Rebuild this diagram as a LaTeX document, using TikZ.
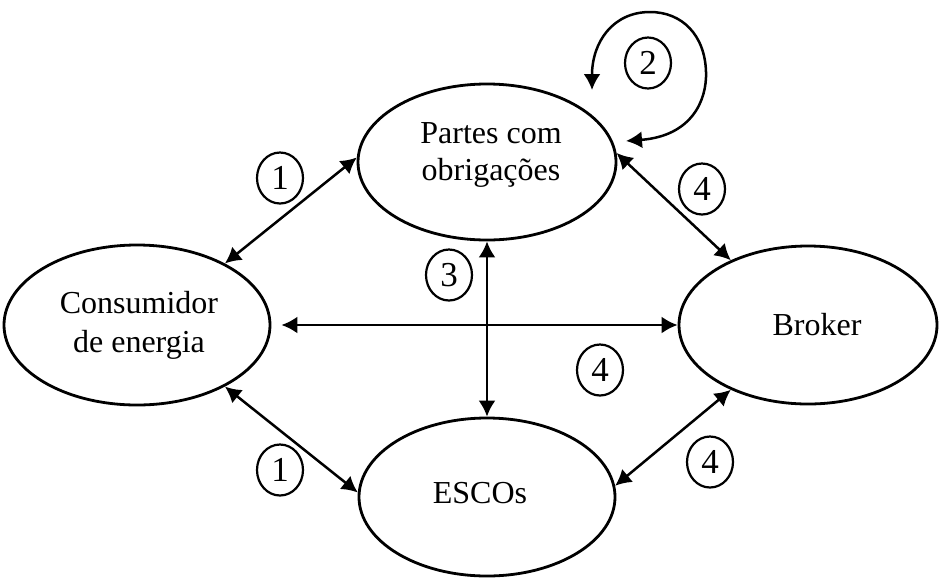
\documentclass[tikz,border=0pt]{standalone}
\usepackage{fontspec}
\setmainfont{Liberation Serif}
\usetikzlibrary{shapes.geometric,arrows.meta}
\begin{document}
\begin{tikzpicture}[x=1pt,y=-1pt,
  oval/.style={draw,ellipse,line width=2.8pt,inner sep=0pt},
  lbl/.style={anchor=base,font=\fontsize{32}{39}\selectfont,inner sep=0pt},
  num/.style={draw,ellipse,line width=2.2pt,minimum width=46pt,minimum height=51pt,inner sep=0pt,font=\fontsize{35}{35}\selectfont},
  arr/.style={line width=2.5pt,{Latex[length=16pt,width=17pt]}-{Latex[length=16pt,width=17pt]}}]
\useasboundingbox (0,0) rectangle (939,579);
% ellipses
\node[oval,minimum width=258pt,minimum height=156pt] (P) at (487,162) {};
\node[oval,minimum width=266pt,minimum height=160pt] (C) at (137,325) {};
\node[oval,minimum width=258pt,minimum height=158pt] (B) at (808,325) {};
\node[oval,minimum width=256pt,minimum height=158pt] (E) at (487,497) {};
% texts
\node[lbl] (tP1) at (491,143) {Partes com};
\node[lbl] (tP2) at (491,180) {obrigações};
\node[lbl] (tC1) at (139,313) {Consumidor};
\node[lbl] (tC2) at (139,352) {de energia};
\node[lbl] (tB) at (817,335) {Broker};
\node[lbl] (tE) at (480,503) {ESCOs};
% connectors
\draw[arr] (C.35) -- (P.178);
\draw[arr] (C.-35) -- (E.178);
\draw[arr] (P.south) -- (E.north);
\draw[arr] (C.east) ++(10,0) coordinate (ch) (ch) -- (B.west);
\draw[arr] (P.4) -- (B.140);
\draw[arr] (E.5) -- (B.-140);
% loop
\coordinate (L1) at (626,141);
\coordinate (L2) at (592,90);
\draw[arr] (L1) .. controls (692,136) and (707,100) .. (706,72)
  .. controls (705,35) and (682,12) .. (650,12)
  .. controls (613,12) and (592,42) .. (L2);
% numbers
\node[num] (n1a) at (280,178) {1};
\node[num] (n1b) at (280,470) {1};
\node[num] (n2) at (648,63) {2};
\node[num] (n3) at (449,275) {3};
\node[num] (n4a) at (702,189) {4};
\node[num] (n4b) at (600,370) {4};
\node[num] (n4c) at (710,462) {4};
\end{tikzpicture}
\end{document}
